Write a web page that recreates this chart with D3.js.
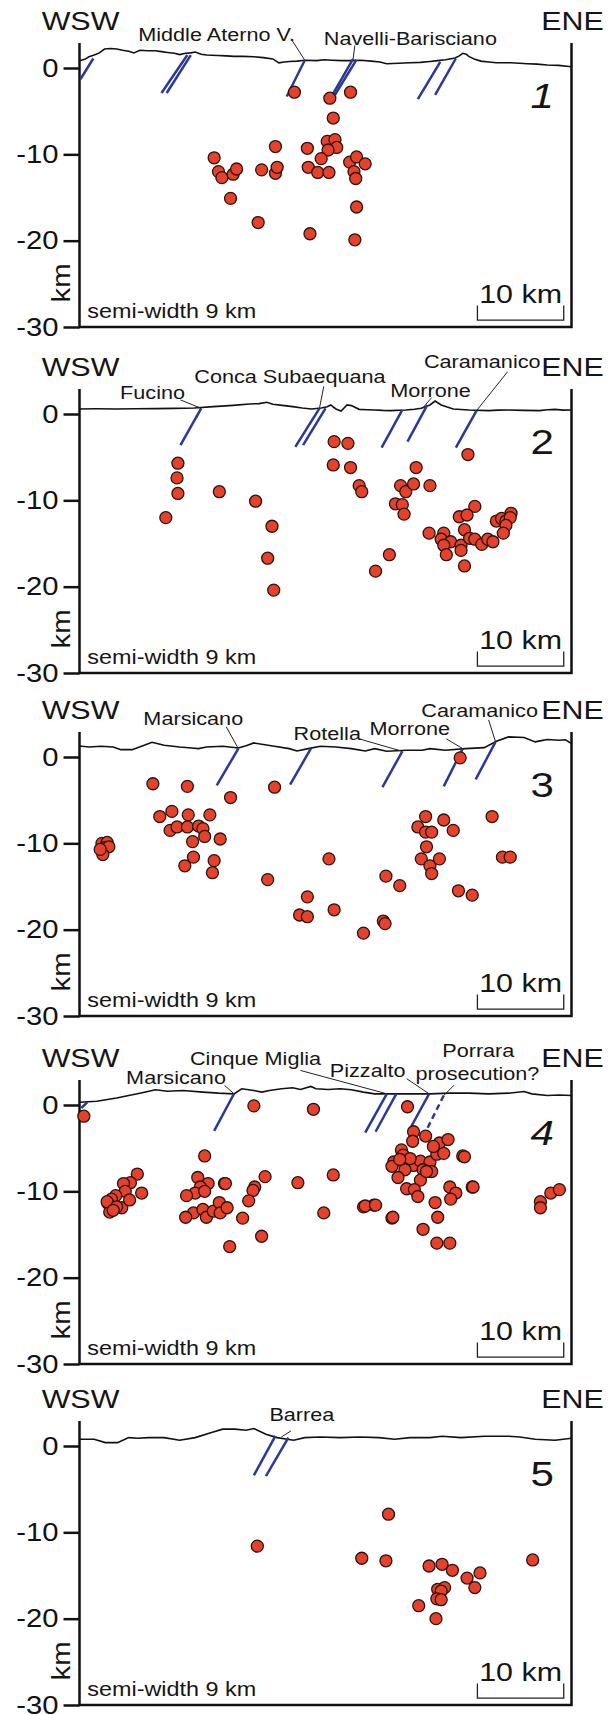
<!DOCTYPE html>
<html>
<head>
<meta charset="utf-8">
<script src="https://cdn.jsdelivr.net/npm/d3@7"></script>
<style>
  body { margin: 0; background: #fff; }
  svg { display: block; font-family: "Liberation Sans", Arial, sans-serif; }
  .axis path, .axis line { stroke: #111; stroke-width: 2.5; }
  .axis text { fill: #111; font-size: 25px; font-family: "Liberation Sans", Arial, sans-serif; }
  .frame { stroke: #111; stroke-width: 2.5; fill: none; }
  .topo { stroke: #111; stroke-width: 1.6; fill: none; }
  .fault { stroke: #2b3896; stroke-width: 2.5; }
  .leader { stroke: #222; stroke-width: 1; }
  .quake { fill: #e5412b; stroke: #2a1410; stroke-width: 1.3; }
</style>
</head>
<body>
<div id="chart"></div>
<script>
"use strict";

// Data (distance along section in km, depth / elevation in km)
// ------------------------------------------------------------

var sections = ["1", "2", "3", "4", "5"];
var yTicks = [0, -10, -20, -30];

var quakes1 = [[24.9,-2.8],[29.0,-3.5],[31.4,-2.8],[29.4,-5.8],[28.7,-8.5],[29.6,-8.3],
  [29.8,-9.2],[28.8,-9.5],[26.4,-9.3],[28.0,-10.5],[22.7,-9.1],[15.6,-10.4],[16.1,-12.0],
  [16.5,-12.7],[17.8,-12.3],[18.2,-11.7],[17.5,-15.1],[21.1,-11.8],[22.7,-12.2],[22.9,-11.5],
  [26.5,-11.5],[27.6,-12.1],[28.9,-12.1],[31.3,-10.9],[32.1,-10.3],[33.1,-11.1],[31.8,-12.0],
  [32.0,-12.8],[32.1,-16.1],[20.7,-17.9],[26.7,-19.2],[31.9,-19.9]];

var quakes2 = [[10.0,-12.0],[11.4,-5.7],[11.3,-7.4],[11.4,-9.2],[16.2,-9.0],[20.4,-10.1],
  [22.3,-13.0],[21.8,-16.7],[22.5,-20.4],[29.5,-3.2],[31.1,-3.4],[29.4,-5.9],[31.4,-6.2],
  [32.4,-8.3],[32.7,-9.0],[34.3,-18.2],[35.9,-16.3],[39.0,-6.2],[37.2,-8.3],[37.8,-9.0],
  [38.7,-8.1],[40.6,-8.3],[36.6,-10.4],[37.4,-10.5],[37.6,-11.6],[45.0,-4.7],[45.8,-10.7],
  [44.0,-11.9],[44.9,-11.7],[44.6,-13.4],[40.5,-13.8],[42.2,-13.8],[41.9,-14.5],[43.0,-14.8],
  [42.2,-15.2],[42.5,-16.3],[44.2,-15.2],[44.2,-15.8],[44.6,-17.6],[45.2,-14.4],[45.8,-14.5],
  [46.6,-15.1],[47.3,-14.5],[47.9,-14.8],[48.3,-12.4],[48.9,-12.1],[49.4,-12.4],[50.0,-11.5],
  [49.9,-12.0],[49.4,-12.9],[49.1,-13.8]];

var quakes3 = [[2.6,-10.0],[3.2,-9.9],[2.9,-10.5],[3.4,-10.4],[2.7,-11.3],[2.4,-10.7],
  [8.5,-3.1],[12.5,-3.4],[17.5,-4.7],[9.3,-6.9],[10.7,-6.3],[12.6,-6.7],[15.1,-6.7],
  [10.5,-8.5],[11.3,-8.1],[12.5,-8.1],[13.8,-8.0],[14.3,-8.3],[14.5,-9.2],[13.1,-9.8],
  [16.3,-9.5],[13.2,-11.6],[12.2,-12.6],[15.6,-12.0],[15.4,-13.4],[22.6,-3.5],[21.8,-14.2],
  [28.9,-11.8],[26.4,-16.2],[25.5,-18.3],[26.4,-18.5],[29.5,-17.7],[32.9,-20.4],[35.2,-19.0],
  [35.4,-19.3],[35.5,-13.8],[37.1,-14.9],[44.1,-0.1],[40.1,-6.9],[42.2,-7.3],[39.2,-8.1],
  [40.1,-8.7],[40.8,-8.7],[43.3,-8.5],[40.2,-10.4],[39.6,-11.8],[40.6,-12.6],[41.7,-11.8],
  [40.8,-13.5],[43.9,-15.5],[45.5,-16.0],[47.8,-6.9],[49.0,-11.6],[49.9,-11.6]];

var quakes4 = [[0.5,-1.3],[20.2,-0.1],[27.1,-0.5],[14.5,-5.9],[16.8,-9.1],[21.5,-8.3],
  [20.3,-9.5],[20.1,-9.9],[19.6,-11.1],[18.9,-13.1],[21.1,-15.2],[17.4,-16.4],[25.3,-9.0],
  [29.4,-8.1],[28.3,-12.5],[32.9,-11.8],[34.1,-11.6],[36.2,-13.1],[44.4,-5.9],[45.5,-9.5],
  [53.4,-11.2],[53.4,-11.9],[54.6,-10.2],[55.6,-9.8],
  [6.7,-8.0],[5.9,-9.0],[5.1,-9.1],[7.2,-10.2],[5.3,-10.0],[4.2,-10.5],[3.7,-10.9],[3.3,-11.4],
  [4.9,-11.9],[3.5,-12.4],[3.2,-11.2],[5.8,-11.0],[4.3,-11.8],[3.9,-12.2],
  [13.7,-8.4],[14.9,-9.1],[14.0,-9.5],[13.4,-10.2],[12.4,-10.5],[16.9,-9.1],[14.5,-10.0],
  [13.2,-12.5],[12.3,-13.0],[14.3,-12.1],[14.7,-13.0],[15.5,-12.3],[16.2,-11.3],[16.3,-12.5],
  [17.1,-11.9],
  [38.0,-0.2],[38.7,-3.1],[40.1,-3.6],[38.6,-4.2],[41.7,-4.4],[42.7,-4.0],[37.3,-5.2],
  [37.5,-5.8],[36.4,-6.6],[36.2,-7.1],[38.1,-6.7],[38.7,-7.0],[39.5,-6.5],[40.6,-6.6],
  [41.4,-5.7],[42.2,-5.6],[40.8,-7.7],[39.8,-7.5],[37.7,-7.5],[36.9,-8.4],[39.5,-8.7],
  [37.9,-9.7],[38.8,-9.8],[39.2,-10.6],[44.6,-6.0],[42.9,-9.5],[43.6,-10.2],[43.0,-10.9],
  [45.6,-9.5],[41.2,-11.3],[41.5,-13.0],[39.8,-14.4],[41.4,-16.0],[42.9,-16.0],[36.3,-13.0],
  [33.1,-11.7],[34.3,-11.6],[38.3,-6.2],[40.2,-7.7],[37.1,-6.3],[41.0,-4.8]];

var quakes5 = [[20.6,-11.6],[32.7,-13.0],[35.5,-13.3],[35.8,-7.9],[40.5,-13.9],[42.0,-13.7],
  [43.2,-14.4],[44.9,-15.3],[46.4,-14.7],[45.8,-16.4],[41.5,-16.6],[42.3,-16.4],[41.9,-16.8],
  [41.4,-17.7],[41.9,-17.8],[39.3,-18.5],[41.3,-20.0],[52.5,-13.2]];

var topo1 = [[0,0.85],[0.6,1.0],[1.1,1.3],[1.7,1.5],[2.3,1.75],[2.9,2.2],[3.6,2.25],[4.3,2.2],
  [5.0,2.05],[5.7,1.95],[6.3,1.75],[7.0,2.05],[7.9,2.0],[8.8,2.0],[9.5,1.9],[10.2,1.8],
  [11.0,1.7],[11.6,1.55],[12.3,1.7],[12.9,1.75],[13.4,1.85],[14.1,1.6],[14.7,1.5],[16.0,1.45],
  [17.0,1.4],[17.9,1.35],[19.0,1.35],[20.2,1.3],[21.3,1.2],[22.4,1.05],[23.1,0.6],[23.7,0.7],
  [24.3,0.75],[25.2,0.8],[26.1,0.9],[27.5,0.85],[28.3,0.95],[29.3,0.9],[30.4,0.85],[31.5,0.85],
  [32.6,0.9],[33.8,0.8],[34.8,0.7],[35.6,0.5],[37.0,0.55],[38.3,0.6],[39.5,0.65],[40.6,0.75],
  [41.5,0.85],[42.4,0.95],[43.5,1.15],[44.0,1.4],[44.4,1.7],[44.8,1.6],[45.1,1.35],[45.8,1.0],
  [46.5,0.8],[47.4,0.7],[48.3,0.6],[50.0,0.6],[51.9,0.5],[53.0,0.45],[54.2,0.35],[55.5,0.3],
  [57,0.15]];

var topo2 = [[0,0.58],[2.0,0.6],[4.2,0.58],[6.5,0.6],[8.8,0.62],[11.0,0.65],[13.3,0.7],
  [15.5,0.85],[17.8,1.0],[19.7,1.16],[20.8,1.2],[21.7,1.36],[22.4,1.13],[23.5,1.0],[24.7,0.85],
  [25.8,0.7],[26.9,0.58],[28.0,0.7],[28.7,0.85],[29.1,1.05],[29.7,0.58],[30.3,0.35],[31.0,1.05],
  [31.5,0.97],[32.4,0.54],[33.3,0.5],[34.2,0.47],[35.1,0.42],[36.0,0.39],[37.8,0.47],[38.8,0.55],
  [39.6,0.66],[40.6,1.05],[41.2,1.5],[41.9,1.05],[42.6,0.8],[43.3,0.58],[45.1,0.47],[47.4,0.39],
  [48.5,0.45],[49.6,0.47],[51.5,0.42],[53.3,0.39],[54.2,0.5],[55.1,0.54],[56.0,0.45],[57,0.47]];

var topo3 = [[0,1.28],[1.1,1.16],[2.5,1.24],[3.9,1.16],[4.8,0.85],[6.1,0.85],[7.5,1.36],
  [8.4,1.71],[9.8,1.36],[11.6,1.16],[13.0,1.05],[13.8,0.97],[14.7,1.16],[16.6,1.24],[18.4,1.05],
  [19.3,1.3],[20.2,1.63],[21.3,1.45],[22.4,1.28],[24.3,0.97],[25.2,0.7],[26.5,0.97],[27.9,1.24],
  [29.7,1.16],[31.5,0.97],[33.1,0.7],[34.2,0.97],[35.6,0.66],[37.9,0.78],[39.7,0.78],[40.6,0.97],
  [42.4,0.78],[44.7,0.97],[46.9,1.09],[48.3,1.82],[49.7,2.33],[51.5,2.25],[52.8,1.75],[53.5,1.9],
  [54.2,2.02],[55.6,1.94],[56.3,2.0],[57,1.55]];

var topo4 = [[0,0.31],[2.0,0.43],[4.3,0.82],[5.7,1.1],[7.0,1.37],[7.9,1.56],[8.8,1.76],
  [10.2,1.6],[12.0,1.68],[14.3,1.49],[16.1,1.37],[17.9,1.29],[18.8,1.88],[20.2,1.68],[21.1,1.49],
  [22.0,1.68],[23.4,1.88],[24.7,1.99],[25.6,1.8],[26.8,2.15],[27.4,1.88],[28.8,1.8],[30.2,1.88],
  [31.5,1.76],[32.9,1.49],[34.2,1.29],[36.1,1.29],[38.3,1.29],[40.6,1.29],[42.9,1.37],[45.1,1.37],
  [47.4,1.29],[49.7,1.37],[51.5,1.56],[52.4,1.29],[54.2,1.1],[55.6,1.15],[57,1.1]];

var topo5 = [[0,0.78],[1.7,0.78],[3.0,0.39],[4.4,0.39],[5.7,0.97],[6.8,0.9],[8.0,0.97],
  [9.8,0.97],[11.6,0.66],[13.4,0.97],[15.3,1.56],[16.6,1.95],[18.0,1.95],[19.3,1.83],[20.2,2.03],
  [21.6,1.36],[22.9,0.97],[24.8,0.66],[26.1,0.97],[27.9,1.05],[30.2,0.97],[32.5,1.05],[34.7,0.97],
  [36.5,0.78],[38.3,0.97],[40.6,0.97],[42.0,1.13],[44.2,0.97],[46.9,1.13],[49.7,1.13],[51.0,1.05],
  [52.8,0.78],[55.1,0.66],[57,0.9]];

// fault traces: [x top, z top, x bottom, z bottom, dashed]
var faults1 = [[1.6,1.1,0.1,-1.3],[12.5,1.5,9.5,-2.9],[12.9,1.5,10.1,-2.9],[26.1,0.9,24.0,-3.3],
  [31.7,1.05,29.3,-3.1],[32.1,0.97,29.6,-3.1],[41.8,0.7,39.2,-3.6],[43.6,1.1,41.2,-3.1]];
var faults2 = [[14.1,0.66,11.7,-3.6],[27.8,0.66,25.0,-3.8],[28.5,0.66,25.9,-3.6],
  [37.4,0.47,35.0,-3.9],[40.3,1.05,38.0,-3.2],[46.0,0.39,43.6,-3.9]];
var faults3 = [[18.4,0.97,15.9,-3.3],[26.8,0.97,24.4,-3.2],[37.4,0.66,35.1,-3.5],
  [44.4,0.97,42.2,-3.4],[48.2,1.75,45.9,-2.6]];
var faults4 = [[0.9,0.3,0.2,-0.35],[17.9,1.3,15.6,-3.0],[35.6,1.3,33.1,-3.2],[36.7,1.3,34.3,-3.1],
  [40.5,1.3,38.1,-3.1],[42.2,1.1,40.1,-3.1,true]];
var faults5 = [[22.7,1.17,20.2,-3.4],[24.2,0.97,21.6,-3.5]];

// fault names: [text, x, z, anchor, leader from x, z, to x, z]
var names1 = [["Middle Aterno V.", 6.8, 3.1, "start", 24.5, 3.4, 26.1, 0.9],
  ["Navelli-Barisciano", 28.3, 2.7, "start", 31.9, 2.6, 31.7, 1.05]];
var names2 = [["Fucino", 4.7, 1.7, "start", 11.7, 1.63, 14.1, 0.66],
  ["Conca Subaequana", 13.3, 3.57, "start", 28.3, 3.2, 27.8, 0.66],
  ["Morrone", 36.0, 2.0, "start", 40.8, 1.9, 39.9, 0.85],
  ["Caramanico", 39.9, 5.3, "start", 49.6, 4.9, 46.0, 0.39]];
var names3 = [["Marsicano", 7.4, 3.76, "start", 17.0, 3.5, 18.4, 0.97],
  ["Rotella", 24.8, 1.94, "start", 32.4, 2.1, 37.4, 0.66],
  ["Morrone", 33.6, 2.5, "start", 42.5, 2.1, 44.4, 0.97],
  ["Caramanico", 39.6, 4.66, "start", 47.4, 4.3, 48.2, 1.75]];
var names4 = [["Marsicano", 5.4, 2.46, "start", 16.8, 2.27, 17.9, 1.3],
  ["Cinque Miglia", 12.8, 4.6, "start", 25.6, 4.0, 35.6, 1.3],
  ["Pizzalto", 29.0, 3.25, "start", 37.9, 3.05, 40.5, 1.3],
  ["Porrara", 46.2, 5.6, "middle"],
  ["prosecution?", 46.1, 2.85, "middle", 43.4, 2.3, 42.2, 1.1]];
var names5 = [["Barrea", 22.0, 2.84, "start", 24.5, 1.75, 23.4, 1.05]];


// Layout
// ------

var width = 614, height = 1715;
var SX = 1.17;                              // horizontal stretch of the lettering
var zeros = [68, 414, 757, 1105, 1446];     // y of the 0 km level in each panel
var italicNum = [true, false, false, true, false];

var panels = [
  {quakes: quakes1, topo: topo1, faults: faults1, names: names1},
  {quakes: quakes2, topo: topo2, faults: faults2, names: names2},
  {quakes: quakes3, topo: topo3, faults: faults3, names: names3},
  {quakes: quakes4, topo: topo4, faults: faults4, names: names4},
  {quakes: quakes5, topo: topo5, faults: faults5, names: names5}
];

var svg = d3.select("#chart").append("svg")
    .attr("width", width)
    .attr("height", height);

var x = d3.scaleLinear().domain([0, 57]).range([79.5, 571.5]);

function text(g, px, py, str, size, anchor) {
  return g.append("text")
      .attr("transform", "translate(" + px + "," + py + ") scale(" + SX + ",1)")
      .attr("text-anchor", anchor || "start")
      .style("font-size", size + "px")
      .style("fill", "#151515")
      .text(str);
}


// Draw each section
// -----------------

panels.forEach(function(p, i) {

  var z0 = zeros[i];
  var y = d3.scaleLinear().domain([0, -30]).range([z0, z0 + 259]);
  var g = svg.append("g");

  // frame
  g.append("path")
      .attr("class", "frame")
      .attr("d", "M" + x(0) + "," + y(2.9) + "V" + y(-30) + "H" + x(57) + "V" + y(2.9));

  // depth axis
  var axis = d3.axisLeft(y).tickValues(yTicks).tickSize(16).tickPadding(5)
      .tickFormat(function(d) { return String(d); });
  var ga = g.append("g")
      .attr("class", "axis")
      .attr("transform", "translate(" + x(0) + ",0)")
      .call(axis);
  ga.select(".domain").remove();
  ga.selectAll("text")
      .attr("x", -21 / SX)
      .attr("transform", "scale(" + SX + ",1)");

  // headings
  text(g, x(0) + 1, z0 - 38, "WSW", 26, "middle");
  text(g, x(57) + 1, z0 - 38, "ENE", 26, "middle");
  text(g, x(53.6), z0 + 40, sections[i], 36, "middle")
      .style("font-style", italicNum[i] ? "italic" : "normal");

  // topography
  g.append("path")
      .datum(p.topo)
      .attr("class", "topo")
      .attr("d", d3.line().x(function(d) { return x(d[0]); }).y(function(d) { return y(d[1]); }));

  // faults
  g.selectAll(".fault").data(p.faults).enter().append("line")
      .attr("class", "fault")
      .attr("x1", function(d) { return x(d[0]); })
      .attr("y1", function(d) { return y(d[1]); })
      .attr("x2", function(d) { return x(d[2]); })
      .attr("y2", function(d) { return y(d[3]); })
      .style("stroke-dasharray", function(d) { return d[4] ? "6,4" : null; });

  // fault names and leaders
  p.names.forEach(function(n) {
    text(g, x(n[1]), y(n[2]), n[0], 18.5, n[3]);
    if (n.length > 4) {
      g.append("line")
          .attr("class", "leader")
          .attr("x1", x(n[4])).attr("y1", y(n[5]))
          .attr("x2", x(n[6])).attr("y2", y(n[7]));
    }
  });

  // earthquakes
  g.selectAll(".quake").data(p.quakes).enter().append("circle")
      .attr("class", "quake")
      .attr("cx", function(d) { return x(d[0]); })
      .attr("cy", function(d) { return y(d[1]); })
      .attr("r", 6);

  // scale bar, labels
  g.append("path")
      .attr("d", "M" + x(46.1) + "," + y(-27.5) + "V" + y(-29.2) + "H" + x(56.1) + "V" + y(-27.5))
      .style("fill", "none").style("stroke", "#222").style("stroke-width", 1.3);
  text(g, x(51.1), y(-27.2), "10 km", 26, "middle");
  text(g, x(0.9), y(-29.0), "semi-width 9 km", 20, "start");

  g.append("text")
      .attr("transform", "translate(70," + y(-24.9) + ") rotate(-90) scale(" + SX + ",1)")
      .attr("text-anchor", "middle")
      .style("font-size", "25px")
      .style("fill", "#151515")
      .text("km");
});
</script>
</body>
</html>
